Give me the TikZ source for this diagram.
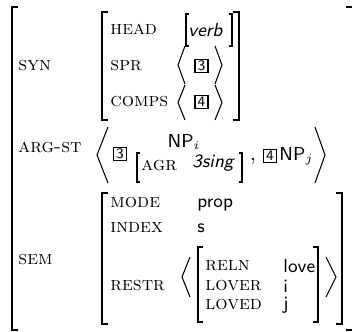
\documentclass[tikz,border=0pt]{standalone}

\newcommand\lbrak[5][brak]{\draw[#1] (#2+#5,#3) -- (#2,#3) -- (#2,#4) -- (#2+#5,#4);}
\newcommand\rbrak[5][brak]{\draw[#1] (#2-#5,#3) -- (#2,#3) -- (#2,#4) -- (#2-#5,#4);}
\newcommand\angl[4]{\draw[brak] (#2,#3) -- (#1,{(#3+#4)/2}) -- (#2,#4);}

\begin{document}
\begin{tikzpicture}[x=0.48pt,y=-0.48pt,
    feat/.style={anchor=west,inner sep=0pt,font=\fontsize{9.3}{11}\selectfont\scshape},
    val/.style={anchor=west,inner sep=0pt,font=\small\sffamily},
    ival/.style={val,font=\small\sffamily\itshape},
    tag/.style={draw,line width=0.7pt,inner sep=0pt,minimum width=6.2pt,
                minimum height=6.2pt,font=\sffamily\scriptsize},
    brak/.style={line width=0.5pt},
    outer/.style={line width=0.65pt}]

  \useasboundingbox (0,0) rectangle (352,331);

  % outer matrix
  \lbrak[outer]{12}{7}{330}{6}
  \rbrak[outer]{353}{7}{330}{7}
  \node (syn)   at (18,66)  [feat] {syn};
  \node (argst) at (18,147) [feat] {arg-st};
  \node (sem)   at (18,260) [feat] {sem};

  % SYN value
  \lbrak{102}{12}{120}{6}
  \rbrak{239}{12}{120}{6}
  \node (head)  at (110,29)  [feat] {head};
  \node (spr)   at (110,66)  [feat] {spr};
  \node (comps) at (110,102) [feat] {comps};

  \lbrak{186}{14}{46}{3}
  \rbrak{232}{14}{46}{3}
  \node (verb) at (188,30) [ival] {verb};

  \angl{178}{185}{46}{84}
  \node (spr3) at (201.5,66) [tag] {3};
  \angl{222}{215}{46}{84}

  \angl{178}{185}{85}{120}
  \node (comps4) at (201.5,102) [tag] {4};
  \angl{222}{215}{85}{120}

  % ARG-ST value
  \angl{97}{108}{127}{183}
  \node (arg3) at (120,154) [tag] {3};
  \node (npi) at (184,142) [font=\small\sffamily,inner sep=0pt] {NP$_i$};
  \lbrak{137}{153}{182}{3}
  \rbrak{242}{153}{182}{3}
  \node (agr)  at (141,165) [feat] {agr};
  \node (sing) at (192,163) [ival] {3sing};
  \node (comma) at (253,160) [anchor=base,inner sep=0pt] {,};
  \node (arg4) at (270,156) [tag] {4};
  \node (npj) at (279,156) [val] {NP$_j$};
  \angl{325}{315}{127}{183}

  % SEM value
  \lbrak{102}{193}{324}{6}
  \rbrak{342}{193}{324}{6}
  \node (mode)  at (110,203) [feat] {mode};
  \node (index) at (110,228) [feat] {index};
  \node (restr) at (110,286) [feat] {restr};
  \node (prop)  at (197,205) [val] {prop};
  \node (sval)  at (197,228) [val] {s};

  \angl{182}{190}{257}{297}
  \lbrak{198}{247}{322}{5}
  \rbrak{318}{247}{322}{5}
  \node (reln)  at (205,266) [feat] {reln};
  \node (lover) at (205,286) [feat] {lover};
  \node (loved) at (205,305) [feat] {loved};
  \node (love)  at (283,266) [val] {love};
  \node (ival)  at (283,286) [val] {i};
  \node (jval)  at (283,305) [val] {j};
  \angl{336}{326}{257}{297}
\end{tikzpicture}
\end{document}
